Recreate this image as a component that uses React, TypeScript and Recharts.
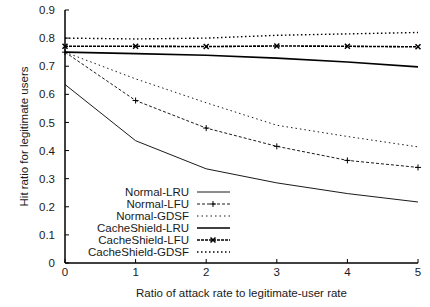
import { LineChart, Line, XAxis, YAxis, Legend } from 'recharts'

const ratios = [0, 1, 2, 3, 4, 5]
const yTicks = [0, 0.1, 0.2, 0.3, 0.4, 0.5, 0.6, 0.7, 0.8, 0.9]

const normalLRU = [0.635, 0.435, 0.335, 0.285, 0.247, 0.217]
const normalLFU = [0.75, 0.578, 0.48, 0.415, 0.365, 0.34]
const normalGDSF = [0.75, 0.655, 0.57, 0.49, 0.45, 0.413]
const shieldLRU = [0.75, 0.745, 0.739, 0.729, 0.715, 0.698]
const shieldLFU = [0.771, 0.771, 0.77, 0.772, 0.771, 0.769]
const shieldGDSF = [0.8, 0.797, 0.8, 0.81, 0.815, 0.82]

const data = ratios.map((x, i) => ({
  x,
  normalLRU: normalLRU[i],
  normalLFU: normalLFU[i],
  normalGDSF: normalGDSF[i],
  shieldLRU: shieldLRU[i],
  shieldLFU: shieldLFU[i],
  shieldGDSF: shieldGDSF[i],
}))

type Marker = 'plus' | 'cross' | null

const series: { key: string; name: string; width: number; dash?: string; marker: Marker }[] = [
  { key: 'normalLRU', name: 'Normal-LRU', width: 0.9, marker: null },
  { key: 'normalLFU', name: 'Normal-LFU', width: 0.9, dash: '3 2', marker: 'plus' },
  { key: 'normalGDSF', name: 'Normal-GDSF', width: 0.9, dash: '1.5 3', marker: null },
  { key: 'shieldLRU', name: 'CacheShield-LRU', width: 1.7, marker: null },
  { key: 'shieldLFU', name: 'CacheShield-LFU', width: 1.6, dash: '3 1', marker: 'cross' },
  { key: 'shieldGDSF', name: 'CacheShield-GDSF', width: 1.4, dash: '1.5 2.5', marker: null },
]

const font = '"Liberation Sans", Arial, Helvetica, sans-serif'
const ink = '#1a1a1a'

function markerPath(kind: Marker, cx: number, cy: number) {
  if (kind === 'plus') return `M${cx - 3},${cy}h6M${cx},${cy - 3}v6`
  if (kind === 'cross') return `M${cx - 2.5},${cy - 2.5}l5,5M${cx - 2.5},${cy + 2.5}l5,-5`
  return ''
}

function makeDot(kind: Marker) {
  if (!kind) return false
  return (props: any) => {
    const { cx, cy, index } = props
    if (cx == null || cy == null) return <g key={index} />
    return (
      <path
        key={index}
        d={markerPath(kind, cx, cy)}
        stroke="#000"
        strokeWidth={kind === 'cross' ? 1.5 : 1}
        fill="none"
      />
    )
  }
}

function LegendBox() {
  return (
    <svg width={180} height={76} style={{ overflow: 'visible' }}>
      {series.map((s, i) => {
        const y = 8 + i * 12
        return (
          <g key={s.key}>
            <text
              x={129}
              y={y}
              textAnchor="end"
              dominantBaseline="central"
              fontSize={11.5}
              fontFamily={font}
              fill={ink}
            >
              {s.name}
            </text>
            <line
              x1={137}
              x2={170}
              y1={y}
              y2={y}
              stroke="#000"
              strokeWidth={s.width}
              strokeDasharray={s.dash}
            />
            {s.marker && (
              <path d={markerPath(s.marker, 153, y)} stroke="#000" strokeWidth={s.marker === 'cross' ? 1.5 : 1} fill="none" />
            )}
          </g>
        )
      })}
    </svg>
  )
}

export default function App() {
  const tickStyle = { fill: ink, fontSize: 11.5, fontFamily: font }
  return (
    <div style={{ position: 'absolute', left: 0, top: 0, width: 430, height: 307, background: '#fff', fontFamily: font }}>
      <LineChart width={430} height={307} data={data} margin={{ top: 10, right: 12, bottom: 0, left: 0 }}>
        <XAxis
          dataKey="x"
          type="number"
          domain={[0, 5]}
          ticks={ratios}
          height={44}
          tickSize={-4}
          tickMargin={9}
          axisLine={{ stroke: '#000', strokeWidth: 1.5 }}
          tickLine={{ stroke: '#000' }}
          tick={tickStyle}
          label={{
            value: 'Ratio of attack rate to legitimate-user rate',
            position: 'center',
            dy: 8,
            style: { fill: ink, fontSize: 11.5, fontFamily: font },
          }}
        />
        <XAxis
          xAxisId="top"
          dataKey="x"
          type="number"
          orientation="top"
          domain={[0, 5]}
          ticks={ratios}
          height={0}
          tickSize={-4}
          tick={false}
          axisLine={{ stroke: '#000', strokeWidth: 1.5 }}
          tickLine={{ stroke: '#000' }}
        />
        <YAxis
          type="number"
          domain={[0, 0.9]}
          ticks={yTicks}
          width={65}
          tickSize={-4}
          tickMargin={14}
          axisLine={{ stroke: '#000', strokeWidth: 1.5 }}
          tickLine={{ stroke: '#000' }}
          tick={tickStyle}
          tickFormatter={(v: number) => (v === 0 ? '0' : v.toFixed(1))}
          label={{
            value: 'Hit ratio for legitimate users',
            angle: -90,
            position: 'center',
            dx: -9,
            style: { fill: ink, fontSize: 11.5, fontFamily: font },
          }}
        />
        <YAxis
          yAxisId="right"
          type="number"
          orientation="right"
          domain={[0, 0.9]}
          ticks={yTicks}
          width={0}
          tickSize={-4}
          tick={false}
          axisLine={{ stroke: '#000', strokeWidth: 1.5 }}
          tickLine={{ stroke: '#000' }}
        />
        {series.map((s) => (
          <Line
            key={s.key}
            type="linear"
            dataKey={s.key}
            name={s.name}
            stroke="#000"
            strokeWidth={s.width}
            strokeDasharray={s.dash}
            dot={makeDot(s.marker)}
            activeDot={false}
            isAnimationActive={false}
          />
        ))}
        <Legend
          layout="vertical"
          align="center"
          verticalAlign="middle"
          content={() => <LegendBox />}
          wrapperStyle={{ position: 'absolute', left: 60, top: 184, width: 180, height: 76 }}
        />
      </LineChart>
    </div>
  )
}
